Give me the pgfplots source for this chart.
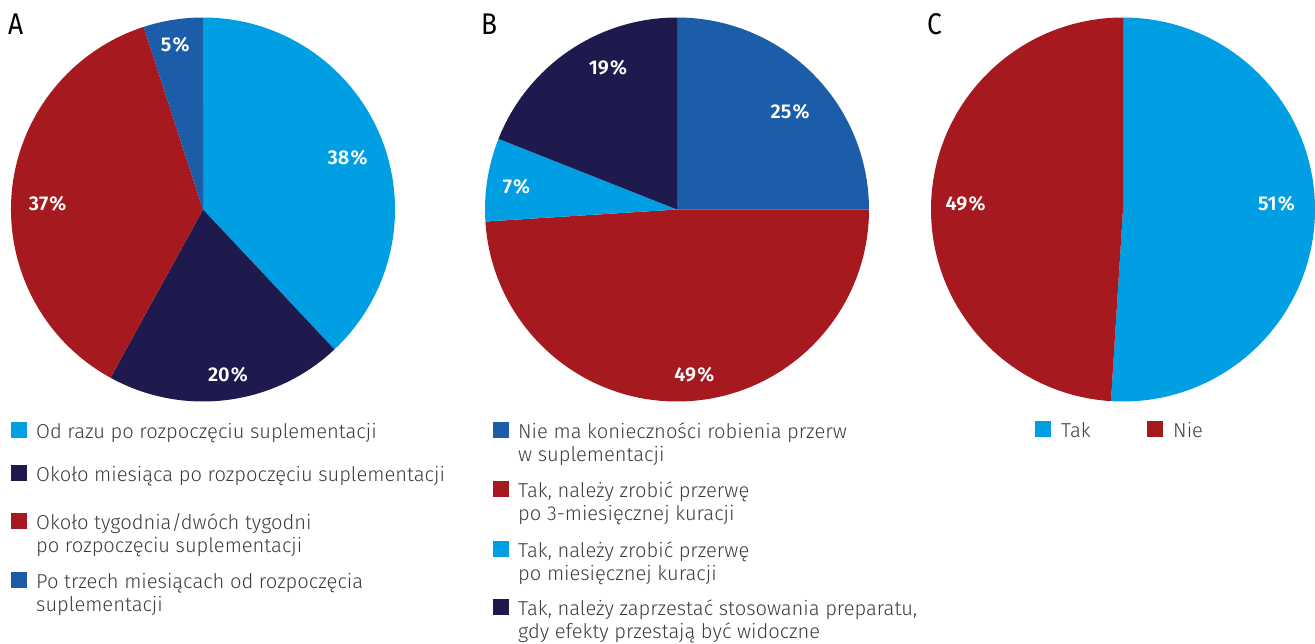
\documentclass[border=0pt]{standalone}
\usepackage{pgfplots}
\pgfplotsset{compat=1.18}
\usepackage{fontspec}
\setmainfont{Fira Sans Light}[BoldFont={Fira Sans SemiBold}]
\newfontfamily\letterfont{Fira Sans}

\definecolor{cLight}{HTML}{009FE3}
\definecolor{cNavy}{HTML}{1F1A4D}
\definecolor{cRed}{HTML}{A6191E}
\definecolor{cMid}{HTML}{1C5DAA}
\definecolor{cText}{HTML}{3C3C3B}

\def\pieR{192bp}
% slice from cumulative share #1 to #2 (percent), clockwise from the top
\newcommand{\pieslice}[3]{%
  \fill[#3] (axis cs:0,0) -- (axis cs:{cos(90-3.6*#1)},{sin(90-3.6*#1)})
    arc[start angle={90-3.6*#1}, end angle={90-3.6*#2}, radius=\pieR] -- cycle;}
% value label at angle #1, radius fraction #2
\newcommand{\pielabel}[3]{%
  \node[font=\bfseries\fontsize{20}{20}\selectfont, text=white, inner sep=0pt]
    at (axis cs:{#2*cos(#1)},{#2*sin(#1)}) {#3\kern1.2bp\%};}
% legend square and text; #2 is the baseline, measured downwards from the top
\newcommand{\legsq}[3]{\fill[#3] (#1bp,-#2bp+16bp) rectangle (#1bp+16bp,-#2bp);}
\newcommand{\legtxt}[3]{\node[anchor=base west, inner sep=0pt, text=cText,
    font=\fontsize{20.2}{23}\selectfont] at (#1bp,-#2bp) {#3};}

\pgfplotsset{pie/.style={anchor=center, x=\pieR, y=\pieR,
  xmin=-1, xmax=1, ymin=-1, ymax=1, hide axis, clip=false}}

\begin{document}
\begin{tikzpicture}
\useasboundingbox (0bp,0bp) rectangle (1315bp,-644bp);

% ---------- A ----------
\begin{axis}[pie, at={(203bp,-209.5bp)}]
  \pieslice{0}{38}{cLight}
  \pieslice{38}{58}{cNavy}
  \pieslice{58}{95}{cRed}
  \pieslice{95}{100}{cMid}
  \pielabel{19.7}{0.80}{38}
  \pielabel{-81.4}{0.87}{20}
  \pielabel{177.8}{0.81}{37}
  \pielabel{99.6}{0.87}{5}
\end{axis}

% ---------- B ----------
\begin{axis}[pie, at={(677bp,-209.5bp)}]
  \pieslice{0}{25}{cMid}
  \pieslice{25}{74}{cRed}
  \pieslice{74}{81}{cLight}
  \pieslice{81}{100}{cNavy}
  \pielabel{41}{0.78}{25}
  \pielabel{-84}{0.865}{49}
  \pielabel{171.8}{0.845}{7}
  \pielabel{116}{0.82}{19}
\end{axis}

% ---------- C ----------
\begin{axis}[pie, at={(1123bp,-209.5bp)}]
  \pieslice{0}{51}{cLight}
  \pieslice{51}{100}{cRed}
  \pielabel{2}{0.80}{51}
  \pielabel{178}{0.82}{49}
\end{axis}

% panel letters
\foreach \px/\lt in {8/A, 481/B, 927/C}
  \node[anchor=base west, inner sep=0pt, xscale=0.88,
        font=\letterfont\fontsize{30}{30}\selectfont] at (\px bp,-34.5bp) {\lt};

% legend A
\legsq{11}{438}{cLight}\legtxt{36}{438}{Od razu po rozpoczęciu suplementacji}
\legsq{11}{481}{cNavy}\legtxt{36}{481}{Około miesiąca po rozpoczęciu suplementacji}
\legsq{11}{529}{cRed}\legtxt{36}{529}{Około tygodnia/dwóch tygodni}
\legtxt{36}{552}{po rozpoczęciu suplementacji}
\legsq{11}{588}{cMid}\legtxt{36}{588}{Po trzech miesiącach od rozpoczęcia}
\legtxt{36}{611}{suplementacji}

% legend B
\legsq{493}{438}{cMid}\legtxt{518}{438}{Nie ma konieczności robienia przerw}
\legtxt{518}{461}{w suplementacji}
\legsq{493}{497}{cRed}\legtxt{518}{497}{Tak, należy zrobić przerwę}
\legtxt{518}{520}{po 3-miesięcznej kuracji}
\legsq{493}{557}{cLight}\legtxt{518}{557}{Tak, należy zrobić przerwę}
\legtxt{518}{580}{po miesięcznej kuracji}
\legsq{493}{615}{cNavy}\legtxt{518}{615}{Tak, należy zaprzestać stosowania preparatu,}
\legtxt{518}{638}{gdy efekty przestają być widoczne}

% legend C
\legsq{1035}{437}{cLight}\legtxt{1061}{437}{Tak}
\legsq{1147}{437}{cRed}\legtxt{1173}{437}{Nie}
\end{tikzpicture}
\end{document}
